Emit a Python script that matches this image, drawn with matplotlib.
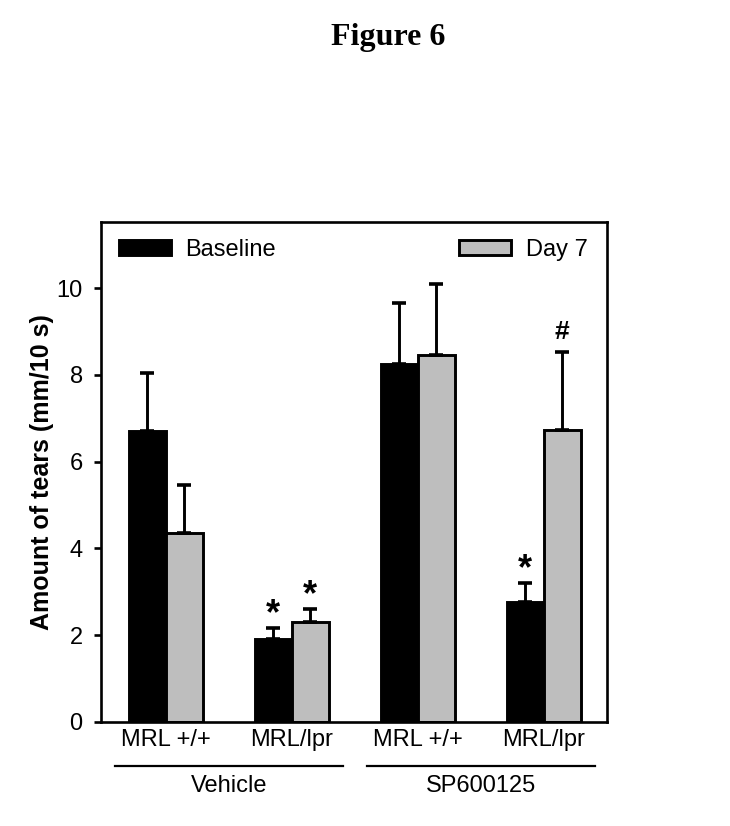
import matplotlib
matplotlib.use("Agg")
import matplotlib.pyplot as plt
import matplotlib.patches as mpatches
import matplotlib.transforms as mtransforms
import numpy as np

# ── Data ──────────────────────────────────────────────────────────────────────
STRAINS = ["MRL +/+", "MRL/lpr", "MRL +/+", "MRL/lpr"]
TREATMENTS = ["Vehicle", "SP600125"]
BASELINE = [6.70, 1.91, 8.25, 2.77]
BASELINE_ERR = [1.35, 0.26, 1.41, 0.44]
DAY7 = [4.35, 2.31, 8.45, 6.73]
DAY7_ERR = [1.11, 0.30, 1.64, 1.80]
BASELINE_MARK = ["", "*", "", "*"]
DAY7_MARK = ["", "*", "", "#"]

BLACK = "#000000"
GRAY = "#bebebe"
LW = 2.1

plt.rcParams.update({
    "font.family": ["Liberation Sans", "DejaVu Sans"],
    "font.size": 17,
    "axes.linewidth": 1.9,
})

fig = plt.figure(figsize=(7.3, 8.26), dpi=100)
ax = fig.add_axes([0.138, 0.126, 0.693, 0.605])

x = np.arange(len(STRAINS))
w = 0.294

err_kw = dict(elinewidth=LW, capthick=2.6, capsize=5, ecolor="black")
ax.bar(x - w / 2, BASELINE, w, color=BLACK, edgecolor="black", lw=LW,
       yerr=[np.zeros(4), BASELINE_ERR], error_kw=err_kw, label="Baseline", zorder=2)
ax.bar(x + w / 2, DAY7, w, color=GRAY, edgecolor="black", lw=LW,
       yerr=[np.zeros(4), DAY7_ERR], error_kw=err_kw, label="Day 7", zorder=2)

# significance marks
def mark(sym, xpos, ytop):
    big = sym == "*"
    ax.annotate(sym, xy=(xpos, ytop), xytext=(0, -3 if big else 6),
                textcoords="offset points", ha="center", va="bottom",
                fontsize=26 if big else 19, fontweight="bold")

for i in range(len(STRAINS)):
    if BASELINE_MARK[i]:
        mark(BASELINE_MARK[i], x[i] - w / 2, BASELINE[i] + BASELINE_ERR[i])
    if DAY7_MARK[i]:
        mark(DAY7_MARK[i], x[i] + w / 2, DAY7[i] + DAY7_ERR[i])

ax.set_xlim(-0.516, 3.5)
ax.set_ylim(0, 11.52)
ax.set_yticks(np.arange(0, 11, 2))
ax.tick_params(axis="y", direction="out", length=5, width=1.9, labelsize=17, pad=8)
ax.set_xticks(x)
ax.set_xticklabels(STRAINS, fontsize=17)
ax.tick_params(axis="x", length=0, pad=5)
ax.set_ylabel("Amount of tears (mm/10 s)", fontsize=18, fontweight="bold")
ax.yaxis.set_label_coords(-0.092, 0.5)

# legend entries at the two top corners
h_base = mpatches.Patch(facecolor=BLACK, edgecolor="black", lw=LW, label="Baseline")
h_day7 = mpatches.Patch(facecolor=GRAY, edgecolor="black", lw=LW, label="Day 7")
leg_kw = dict(frameon=False, fontsize=17, handlelength=2.2, handleheight=0.65,
              handletextpad=0.6, borderaxespad=0.2)
leg1 = ax.legend(handles=[h_base], loc="upper left", bbox_to_anchor=(0.008, 0.995), **leg_kw)
ax.add_artist(leg1)
ax.legend(handles=[h_day7], loc="upper right", bbox_to_anchor=(0.99, 0.995), **leg_kw)

# treatment group underlines and labels
trans = mtransforms.blended_transform_factory(ax.transData, ax.transAxes)
for k, name in enumerate(TREATMENTS):
    x0, x1 = 2 * k - 0.405, 2 * k + 1.41
    ax.plot([x0, x1], [-0.089, -0.089], color="black", lw=1.6, transform=trans, clip_on=False)
    ax.text(2 * k + 0.5, -0.128, name, transform=trans, ha="center", va="center", fontsize=17)

fig.text(0.532, 0.955, "Figure 6", ha="center", va="center", fontsize=23,
         fontweight="bold", family=["Liberation Serif", "DejaVu Serif"])

fig.savefig("out.png", dpi=100)
